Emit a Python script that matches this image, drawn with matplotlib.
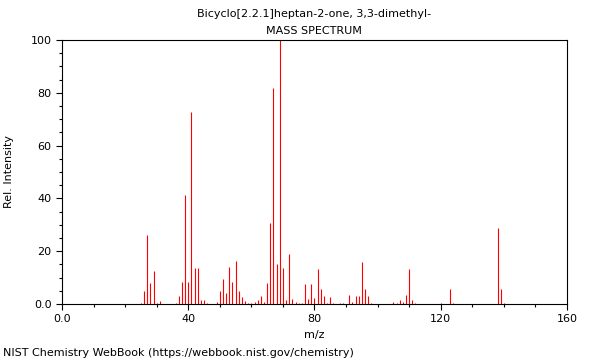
import matplotlib
matplotlib.use("Agg")
import matplotlib.pyplot as plt
from matplotlib.ticker import MultipleLocator

# m/z values and relative intensities
mz = [25, 26, 27, 28, 29, 30, 31, 36, 37, 38, 39, 40, 41, 42, 43, 44, 45, 46,
      49, 50, 51, 52, 53, 54, 55, 56, 57, 58, 59, 60, 61, 62, 63, 64, 65, 66,
      67, 68, 69, 70, 71, 72, 73, 74, 75, 76, 77, 78, 79, 80, 81, 82, 83, 84,
      85, 86, 88, 89, 91, 92, 93, 94, 95, 96, 97, 98, 105, 106, 107, 108, 109,
      110, 111, 112, 120, 123, 124, 138, 139, 140]
intensity = [0.5, 5.0, 26.3, 7.8, 12.5, 0.5, 1.0, 0.5, 3.0, 8.2, 41.3, 8.5, 72.7, 13.8, 13.8, 1.6, 1.6, 0.5,
             0.8, 5.0, 9.5, 4.3, 14.1, 8.5, 16.4, 5.0, 2.7, 1.3, 0.5, 0.5, 0.9, 1.6, 3.0, 0.8, 8.0, 30.5,
             81.7, 15.1, 100.0, 13.8, 1.6, 18.9, 1.9, 0.8, 0.5, 0.4, 7.6, 1.9, 7.7, 2.4, 13.4, 5.7, 3.0, 0.5,
             2.8, 0.4, 0.5, 0.5, 3.5, 0.6, 2.9, 3.2, 15.8, 5.8, 3.2, 0.4, 0.9, 0.5, 1.4, 0.9, 3.5,
             13.1, 1.5, 0.3, 0.5, 5.6, 0.5, 28.6, 5.8, 0.5]

fig = plt.figure(figsize=(6, 3.6), dpi=100)
ax = fig.add_axes([0.1033, 0.1556, 0.8417, 0.7333])

ax.vlines(mz, 0, intensity, colors="red", linewidth=0.8)

ax.set_xlim(0, 160)
ax.set_ylim(0, 100)
ax.set_xticks([0, 40, 80, 120, 160])
ax.set_xticklabels(["0.0", "40", "80", "120", "160"])
ax.set_yticks([0, 20, 40, 60, 80, 100])
ax.set_yticklabels(["0.0", "20", "40", "60", "80", "100"])
ax.xaxis.set_minor_locator(MultipleLocator(10))
ax.yaxis.set_minor_locator(MultipleLocator(5))
ax.tick_params(which="both", direction="out", labelsize=8, width=0.8)
ax.tick_params(which="major", length=4)
ax.tick_params(which="minor", length=2)
for s in ax.spines.values():
    s.set_linewidth(0.8)

ax.set_xlabel("m/z", fontsize=8)
ax.set_ylabel("Rel. Intensity", fontsize=8)
ax.yaxis.set_label_coords(-0.095, 0.5)

fig.text(0.524, 0.962, "Bicyclo[2.2.1]heptan-2-one, 3,3-dimethyl-", ha="center", va="center", fontsize=8)
fig.text(0.524, 0.915, "MASS SPECTRUM", ha="center", va="center", fontsize=8)
fig.text(0.005, 0.02, "NIST Chemistry WebBook (https://webbook.nist.gov/chemistry)", ha="left", va="center", fontsize=8)

fig.savefig("out.png", dpi=100)
